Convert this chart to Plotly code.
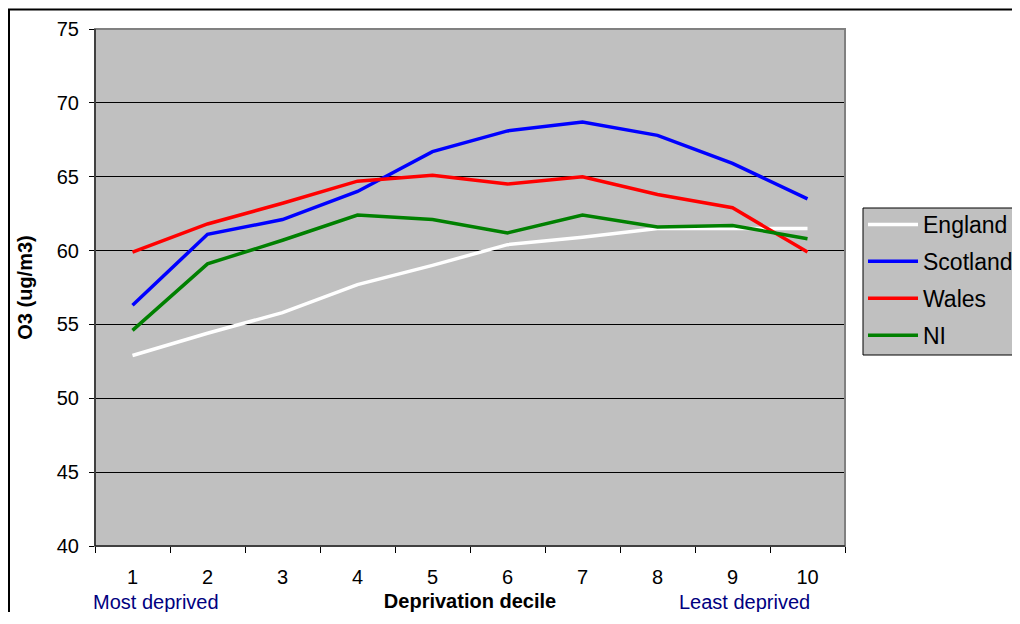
import plotly.graph_objects as go

deciles = ["1", "2", "3", "4", "5", "6", "7", "8", "9", "10"]
england = [52.9, 54.4, 55.8, 57.7, 59.0, 60.4, 60.9, 61.5, 61.5, 61.5]
scotland = [56.3, 61.1, 62.1, 64.0, 66.7, 68.1, 68.7, 67.8, 65.9, 63.5]
wales = [59.9, 61.8, 63.2, 64.7, 65.1, 64.5, 65.0, 63.8, 62.9, 59.9]
ni = [54.6, 59.1, 60.7, 62.4, 62.1, 61.2, 62.4, 61.6, 61.7, 60.8]

series = [
    ("England", england, "#FFFFFF"),
    ("Scotland", scotland, "#0000FF"),
    ("Wales", wales, "#FF0000"),
    ("NI", ni, "#008000"),
]

FONT = "Liberation Sans, Arial, sans-serif"

fig = go.Figure()
for i, (name, vals, col) in enumerate(series):
    fig.add_trace(go.Scatter(
        x=deciles, y=vals, name=name, mode="lines",
        line=dict(color=col, width=3.5), legendgroup=str(i),
    ))

# page has an 8px body margin; plot area sits at page x 95..845, y 29..546
def px_x(p):
    return (p - 95) / 750

def px_y(p):
    return (546 - p) / 517

fig.update_layout(
    width=1020, height=604,
    margin=dict(l=87, r=183, t=21, b=66, autoexpand=False),
    paper_bgcolor="white",
    plot_bgcolor="#C0C0C0",
    font=dict(family=FONT, size=20, color="black"),
    showlegend=True,
    legend=dict(
        x=px_x(863), y=px_y(203), xanchor="left", yanchor="top",
        bgcolor="rgba(0,0,0,0)", borderwidth=0,
        font=dict(size=23, family=FONT),
        traceorder="grouped", tracegroupgap=4, itemwidth=50,
    ),
    xaxis=dict(
        type="category", tickson="boundaries",
        ticks="outside", ticklen=6, tickcolor="black",
        showline=True, linecolor="black", linewidth=1,
        showgrid=False, zeroline=False,
        tickfont=dict(size=20), ticklabelstandoff=13,
        title=dict(text="<b>Deprivation decile</b>", font=dict(size=20), standoff=8),
        range=[-0.5, 9.5],
    ),
    yaxis=dict(
        range=[40, 75], dtick=5, tick0=40,
        ticks="outside", ticklen=5, tickcolor="black",
        showline=True, linecolor="black", linewidth=1,
        showgrid=True, gridcolor="black", gridwidth=1,
        zeroline=False, tickfont=dict(size=20), ticklabelstandoff=6,
        title=dict(text="<b>O3 (ug/m3)</b>", font=dict(size=20), standoff=18),
    ),
    shapes=[
        dict(type="rect", xref="paper", yref="paper", x0=0, x1=1, y0=0, y1=1,
             line=dict(color="#808080", width=2), layer="above"),
        dict(type="line", xref="paper", yref="paper", x0=0, x1=0, y0=0, y1=1,
             line=dict(color="black", width=1), layer="above"),
        dict(type="line", xref="paper", yref="paper", x0=0, x1=1, y0=0, y1=0,
             line=dict(color="black", width=1), layer="above"),
        # legend box
        dict(type="rect", xref="paper", yref="paper",
             x0=px_x(863), x1=px_x(1050), y0=px_y(355), y1=px_y(208),
             fillcolor="#C0C0C0", line=dict(color="black", width=1), layer="above"),
        # outer chart border
        dict(type="rect", xref="paper", yref="paper",
             x0=px_x(9), x1=px_x(1050), y0=px_y(640), y1=px_y(9.5),
             line=dict(color="black", width=2), layer="above"),
    ],
    annotations=[
        dict(text="Most deprived", xref="paper", yref="paper",
             x=px_x(156), y=px_y(602), showarrow=False,
             xanchor="center", yanchor="middle",
             font=dict(size=20, color="#000080", family=FONT)),
        dict(text="Least deprived", xref="paper", yref="paper",
             x=px_x(744), y=px_y(602), showarrow=False,
             xanchor="center", yanchor="middle",
             font=dict(size=20, color="#000080", family=FONT)),
    ],
)

fig.write_html("out.html")
